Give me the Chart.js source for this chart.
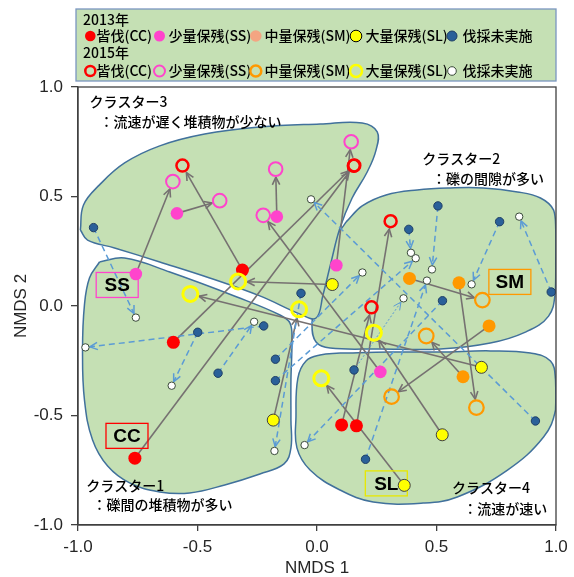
<!DOCTYPE html>
<html>
<head>
<meta charset="utf-8">
<script src="https://cdn.jsdelivr.net/npm/chart.js@4"></script>
<style>
  html, body { margin: 0; padding: 0; background: #fff; }
</style>
</head>
<body>
<canvas id="nmdsChart" width="574" height="577"></canvas>
<script>
// NMDS site scores [NMDS 1, NMDS 2]; 2013 (filled) -> 2015 (open), same order = same site
var cc2013 = [[-0.312, 0.164], [-0.601, -0.166], [-0.762, -0.695], [0.103, -0.543], [0.165, -0.547]];
var cc2015 = [[-0.563, 0.641], [0.156, 0.642], [0.154, 0.640], [0.228, -0.006], [0.308, 0.387]];

var ss2013 = [[-0.758, 0.146], [-0.586, 0.423], [-0.168, 0.408], [0.081, 0.186], [0.265, -0.301]];
var ss2015 = [[-0.603, 0.568], [-0.407, 0.481], [-0.173, 0.625], [0.143, 0.750], [-0.225, 0.414]];

var sm2013 = [[0.387, 0.126], [0.594, 0.106], [0.720, -0.091], [0.611, -0.323]];
var sm2015 = [[0.692, 0.027], [0.667, -0.464], [0.312, -0.414], [0.457, -0.137]];

var sl2013 = [[0.064, 0.098], [-0.183, -0.521], [0.688, -0.280], [0.524, -0.588], [0.365, -0.819]];
var sl2015 = [[-0.330, 0.112], [-0.075, -0.015], [-0.530, 0.055], [0.238, -0.122], [0.018, -0.330]];

var un2013 = [[-0.935, 0.358], [-0.499, -0.120], [-0.223, -0.091], [-0.414, -0.307], [-0.067, 0.058],
              [-0.174, -0.243], [-0.174, -0.341], [0.506, 0.457], [0.764, 0.385], [0.980, 0.064],
              [0.384, 0.350], [0.525, 0.024], [0.155, -0.292], [0.914, -0.525], [0.203, -0.700]];
var un2015 = [[-0.758, -0.053], [-0.608, -0.364], [-0.969, -0.189], [-0.263, -0.072], [-0.178, -0.662],
              [0.190, 0.153], [0.413, 0.218], [0.481, 0.167], [0.647, 0.099], [0.846, 0.408],
              [0.393, 0.243], [-0.052, -0.635], [0.362, 0.035], [-0.025, 0.487], [0.460, 0.116]];
var unDotted = [12];

// cluster outlines
var hull1 = [[-0.910, 0.201], [-0.805, 0.219], [-0.616, 0.155], [-0.335, 0.041], [-0.155, -0.041], [-0.113, -0.078],
             [-0.105, -0.155], [-0.109, -0.338], [-0.109, -0.521], [-0.109, -0.648], [-0.138, -0.721], [-0.239, -0.767],
             [-0.386, -0.817], [-0.533, -0.854], [-0.658, -0.849], [-0.784, -0.808], [-0.876, -0.731], [-0.939, -0.612],
             [-0.973, -0.429], [-0.981, -0.201], [-0.973, 0.005], [-0.952, 0.128], [-0.910, 0.201]];
var hull2 = [[0.122, 0.384], [0.189, 0.457], [0.289, 0.507], [0.419, 0.530], [0.558, 0.539], [0.696, 0.539],
             [0.839, 0.521], [0.935, 0.493], [0.990, 0.438], [0.999, 0.347], [0.999, 0.210], [0.997, 0.064],
             [0.969, -0.046], [0.872, -0.119], [0.725, -0.169], [0.516, -0.196], [0.264, -0.196], [0.055, -0.192],
             [-0.004, -0.164], [-0.021, -0.087], [-0.004, 0.027], [0.025, 0.164], [0.067, 0.292], [0.122, 0.384]];
var hull3 = [[-0.990, 0.347], [-0.977, 0.461], [-0.910, 0.553], [-0.805, 0.653], [-0.658, 0.731], [-0.470, 0.785],
             [-0.239, 0.817], [0.013, 0.831], [0.189, 0.836], [0.252, 0.795], [0.247, 0.712], [0.210, 0.612],
             [0.147, 0.493], [0.096, 0.356], [0.059, 0.201], [0.025, 0.050], [-0.004, -0.055], [-0.071, -0.037],
             [-0.239, 0.046], [-0.449, 0.128], [-0.658, 0.201], [-0.847, 0.265], [-0.960, 0.301], [-0.990, 0.347]];
var hull4 = [[0.096, -0.215], [0.306, -0.210], [0.516, -0.210], [0.725, -0.205], [0.893, -0.215], [0.977, -0.251],
             [0.998, -0.338], [0.998, -0.475], [0.948, -0.598], [0.797, -0.749], [0.587, -0.872], [0.444, -0.900],
             [0.235, -0.895], [0.096, -0.840], [-0.029, -0.749], [-0.084, -0.648], [-0.088, -0.507], [-0.080, -0.329],
             [-0.046, -0.251], [0.013, -0.224], [0.096, -0.215]];

var clusterNames = ['クラスター1', 'クラスター2', 'クラスター3', 'クラスター4'];
var clusterNotes = ['：礫間の堆積物が多い', '：礫の間隙が多い', '：流速が遅く堆積物が少ない', '：流速が速い'];
var clusterNameAt = [[-0.966, -0.820], [0.440, 0.674], [-0.952, 0.934], [0.565, -0.831]];
var clusterNoteAt = [[-0.939, -0.906], [0.481, 0.583], [-0.910, 0.842], [0.612, -0.925]];

var boxLabels = ['SS', 'CC', 'SM', 'SL'];
var boxAt = [[-0.836, 0.096], [-0.795, -0.593], [0.807, 0.110], [0.290, -0.810]];

var yearLabels = ['2013年', '2015年'];
var treatLabels = ['皆伐(CC)', '少量保残(SS)', '中量保残(SM)', '大量保残(SL)', '伐採未実施'];

var FONT = "'Liberation Sans', Arial, sans-serif";
var JFONT = "'Noto Sans CJK JP', 'Noto Sans', sans-serif";

function pts(a) {
  return a.map(function (p) { return { x: p[0], y: p[1] }; });
}

function hullSet(a) {
  return {
    type: 'line', data: pts(a), order: 10,
    borderColor: '#41719c', borderWidth: 1.5, backgroundColor: '#c5e0b4',
    fill: 'shape', tension: 0.4, pointRadius: 0, pointHoverRadius: 0
  };
}

function pointSet(a, r, bg, bc, bw) {
  return { data: pts(a), pointRadius: r, pointHoverRadius: r, backgroundColor: bg, borderColor: bc, borderWidth: bw };
}

function drawArrow(ctx, x0, y0, x1, y1, gap, color, dash, width) {
  var dx = x1 - x0, dy = y1 - y0, len = Math.sqrt(dx * dx + dy * dy);
  if (len < 1) return;
  var ux = dx / len, uy = dy / len;
  var ex = x1 - ux * gap, ey = y1 - uy * gap;
  var h = 8.5, a = 0.45, c = Math.cos(a), s = Math.sin(a);
  ctx.save();
  ctx.strokeStyle = color;
  ctx.lineWidth = width;
  ctx.setLineDash(dash);
  ctx.beginPath();
  ctx.moveTo(x0, y0);
  ctx.lineTo(ex, ey);
  ctx.stroke();
  ctx.setLineDash([]);
  ctx.beginPath();
  ctx.moveTo(ex - h * (ux * c - uy * s), ey - h * (uy * c + ux * s));
  ctx.lineTo(ex, ey);
  ctx.lineTo(ex - h * (ux * c + uy * s), ey - h * (uy * c - ux * s));
  ctx.stroke();
  ctx.restore();
}

var arrowSets = [
  { from: cc2013, to: cc2015, gap: 8 },
  { from: ss2013, to: ss2015, gap: 8 },
  { from: sm2013, to: sm2015, gap: 8.5 },
  { from: sl2013, to: sl2015, gap: 9 },
  { from: un2013, to: un2015, gap: 4.5, dashed: true }
];

var overlay = {
  id: 'overlay',
  afterDatasetDraw: function (chart, args) {
    if (args.index !== 0) return;
    var ctx = chart.ctx, xs = chart.scales.x, ys = chart.scales.y;
    // arrows
    arrowSets.forEach(function (set) {
      set.from.forEach(function (p, i) {
        var q = set.to[i];
        var x0 = xs.getPixelForValue(p[0]), y0 = ys.getPixelForValue(p[1]);
        var x1 = xs.getPixelForValue(q[0]), y1 = ys.getPixelForValue(q[1]);
        if (set.dashed) {
          if (unDotted.indexOf(i) >= 0) drawArrow(ctx, x0, y0, x1, y1, set.gap, '#5b9bd5', [2, 2], 1);
          else drawArrow(ctx, x0, y0, x1, y1, set.gap, '#5b9bd5', [6, 4], 1.5);
        } else {
          drawArrow(ctx, x0, y0, x1, y1, set.gap, '#767171', [], 1.6);
        }
      });
    });
    // boxed treatment labels
    var boxColors = ['#ff44cc', '#ff0000', '#ff9900', '#e8e800'];
    ctx.save();
    ctx.font = 'bold 19px ' + FONT;
    ctx.textAlign = 'center';
    ctx.textBaseline = 'middle';
    boxLabels.forEach(function (t, i) {
      var cx = xs.getPixelForValue(boxAt[i][0]), cy = ys.getPixelForValue(boxAt[i][1]);
      ctx.strokeStyle = boxColors[i];
      ctx.lineWidth = 1.3;
      ctx.strokeRect(cx - 21, cy - 12.5, 42, 25);
      ctx.fillStyle = '#000';
      ctx.fillText(t, cx, cy + 1);
    });
    ctx.restore();
  },
  afterDatasetsDraw: function (chart) {
    var ctx = chart.ctx, xs = chart.scales.x, ys = chart.scales.y, a = chart.chartArea;
    ctx.save();
    ctx.fillStyle = '#000';
    ctx.font = '500 14px ' + JFONT;
    ctx.textAlign = 'left';
    ctx.textBaseline = 'middle';
    clusterNames.forEach(function (t, i) {
      ctx.fillText(t, xs.getPixelForValue(clusterNameAt[i][0]), ys.getPixelForValue(clusterNameAt[i][1]));
      ctx.fillText(clusterNotes[i], xs.getPixelForValue(clusterNoteAt[i][0]), ys.getPixelForValue(clusterNoteAt[i][1]));
    });
    // frame
    ctx.strokeStyle = '#404040';
    ctx.lineWidth = 1.3;
    ctx.strokeRect(a.left, a.top, a.right - a.left, a.bottom - a.top);
    ctx.restore();
  },
  afterDraw: function (chart) {
    var ctx = chart.ctx;
    ctx.save();
    ctx.fillStyle = '#c5e0b4';
    ctx.fillRect(76, 9, 480, 72);
    ctx.strokeStyle = '#7a96c0';
    ctx.lineWidth = 1.3;
    ctx.strokeRect(76, 9, 480, 72);

    ctx.fillStyle = '#000';
    ctx.font = '500 14px ' + JFONT;
    ctx.textAlign = 'left';
    ctx.textBaseline = 'middle';
    ctx.fillText(yearLabels[0], 83, 19.5);
    ctx.fillText(yearLabels[1], 83, 53);

    var mx = [90.3, 159.5, 255.8, 356, 452];
    var tx = [96.5, 168.5, 264.5, 365.5, 462.5];
    var filled = [['#ff0000', null, 5.3], ['#ff44cc', null, 5.5], ['#f4a582', null, 5.8], ['#ffff00', '#000', 5.8], ['#2a6099', '#1f3f66', 5]];
    var open = [['#ff0000', 2.5, 5], ['#ff44cc', 2, 5.5], ['#ff9900', 2.5, 5.5], ['#ffff00', 2.5, 6], ['#3a4a3a', 1, 4.3]];
    treatLabels.forEach(function (t, i) {
      var f = filled[i];
      ctx.beginPath();
      ctx.arc(mx[i], 36, f[2], 0, Math.PI * 2);
      ctx.fillStyle = f[0];
      ctx.fill();
      if (f[1]) { ctx.strokeStyle = f[1]; ctx.lineWidth = 1; ctx.stroke(); }
      var o = open[i];
      ctx.beginPath();
      ctx.arc(mx[i], 71, o[2], 0, Math.PI * 2);
      if (i === 4) { ctx.fillStyle = '#fff'; ctx.fill(); }
      ctx.strokeStyle = o[0];
      ctx.lineWidth = o[1];
      ctx.stroke();
      ctx.fillStyle = '#000';
      ctx.fillText(t, tx[i], 36);
      ctx.fillText(t, tx[i], 71);
    });
    ctx.restore();
  }
};

new Chart(document.getElementById('nmdsChart'), {
  type: 'scatter',
  data: {
    datasets: [
      hullSet(hull3),
      hullSet(hull2),
      hullSet(hull1),
      hullSet(hull4),
      pointSet(sl2013, 6, '#ffff00', '#404040', 1),
      pointSet(cc2015, 6, 'rgba(0,0,0,0)', '#ff0000', 2.5),
      pointSet(sl2015, 7.5, 'rgba(0,0,0,0)', '#ffff00', 3),
      pointSet(cc2013, 6.5, '#ff0000', '#ff0000', 0),
      pointSet(ss2013, 6.3, '#ff44cc', '#ff44cc', 0),
      pointSet(ss2015, 6.8, 'rgba(0,0,0,0)', '#ff44cc', 2),
      pointSet(sm2015, 7.3, 'rgba(0,0,0,0)', '#ff9900', 2.2),
      pointSet(sm2013, 6.5, '#ff9900', '#ff9900', 0),
      pointSet(un2015, 3.7, '#ffffff', '#3a4a3a', 1),
      pointSet(un2013, 4.2, '#2a6099', '#1f3f66', 1)
    ]
  },
  options: {
    responsive: false,
    animation: false,
    events: [],
    layout: { padding: { top: 87, right: 18, left: 0, bottom: 0 } },
    plugins: {
      legend: { display: false },
      tooltip: { enabled: false }
    },
    scales: {
      x: {
        type: 'linear', min: -1, max: 1,
        ticks: {
          stepSize: 0.5, padding: 6, color: '#262626', font: { family: FONT, size: 17 },
          callback: function (v) { return v.toFixed(1); }
        },
        grid: { drawOnChartArea: false, drawTicks: true, tickLength: 6, color: '#404040', lineWidth: 1.3 },
        border: { display: true, color: '#404040', width: 1.3 },
        title: { display: true, text: 'NMDS 1', color: '#262626', font: { family: FONT, size: 17, lineHeight: 1 }, padding: 0 },
        afterFit: function (s) { s.height = 52; }
      },
      y: {
        type: 'linear', min: -1, max: 1,
        ticks: {
          stepSize: 0.5, padding: 8, color: '#262626', font: { family: FONT, size: 17 },
          callback: function (v) { return v.toFixed(1); }
        },
        grid: { drawOnChartArea: false, drawTicks: true, tickLength: 7, color: '#404040', lineWidth: 1.3 },
        border: { display: true, color: '#404040', width: 1.3 },
        title: { display: true, text: 'NMDS 2', color: '#262626', font: { family: FONT, size: 17, lineHeight: 1 }, padding: { top: 13, bottom: 0 } },
        afterFit: function (s) { s.width = 78; }
      }
    }
  },
  plugins: [overlay]
});
</script>
</body>
</html>
